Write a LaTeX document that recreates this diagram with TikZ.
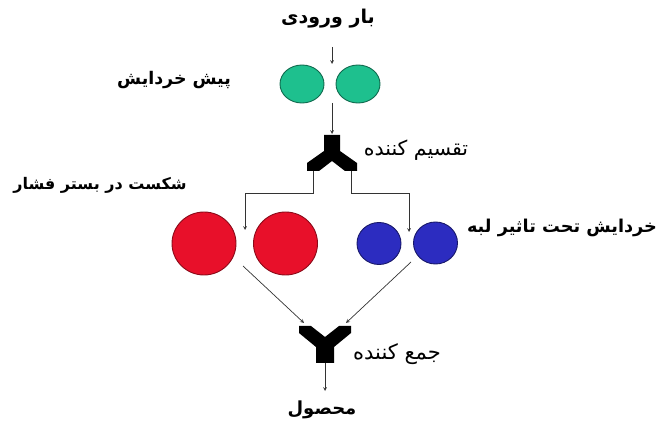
\documentclass[tikz,border=0pt]{standalone}
\usepackage{fontspec}
\usetikzlibrary{positioning,shapes.geometric,calc}
\newfontfamily\fafont[Script=Arabic]{DejaVu Sans}
\TeXXeTstate=1
\definecolor{millgreen}{RGB}{30,192,142}
\definecolor{millred}{RGB}{232,16,42}
\definecolor{millblue}{RGB}{44,44,192}

\begin{document}
\begin{tikzpicture}[
        x=1pt, y=-1pt,
        mill/.style={ellipse, line width=0.9pt, inner sep=0},
        greenmill/.style={mill, fill=millgreen, draw=millgreen!55!black, minimum width=44pt, minimum height=38pt},
        redmill/.style={mill, fill=millred, draw=millred!60!black, minimum width=64pt, minimum height=63pt},
        bluemill/.style={mill, fill=millblue, draw=millblue!55!black, minimum width=44pt, minimum height=42pt},
        boldtag/.style={font=\fafont\bfseries\fontsize{#1}{#1}\selectfont, inner sep=0},
        plaintag/.style={font=\fafont\fontsize{#1}{#1}\selectfont, inner sep=0},
        flow/.style={->, line width=0.7pt, draw=black!80},
        >=stealth
    ]
        \useasboundingbox (0,0) rectangle (661,427);

        % برچسب‌ها
        \node[boldtag=19] (feed) at (328,19) {\beginR بار ورودی\endR};
        \node[boldtag=17.4] (pretag) at (174,80) {\beginR پیش خردایش\endR};
        \node[plaintag=20.5] (splittag) at (416,150) {\beginR تقسیم کننده\endR};
        \node[boldtag=16] (bedtag) at (100,185) {\beginR شکست در بستر فشار\endR};
        \node[boldtag=17.7] (edgetag) at (562,228) {\beginR خردایش تحت تاثیر لبه\endR};
        \node[plaintag=21] (jointag) at (397,354) {\beginR جمع کننده\endR};
        \node[boldtag=18] (product) at (322,410) {\beginR محصول\endR};

        % آسیاها
        \node[greenmill] (green1) at (302,84) {};
        \node[greenmill] (green2) at (358,84) {};
        \node[redmill] (red1) at (204,243.5) {};
        \node[redmill] (red2) at (285.5,243.5) {};
        \node[bluemill] (blue1) at (379,243.5) {};
        \node[bluemill] (blue2) at (435.5,243) {};

        % تقسیم کننده و جمع کننده
        \coordinate (split) at (332,150);
        \coordinate (join) at (325,345);
        \fill[shift={(split)}] (-8,-15) -- (8,-15) -- (8,1) -- (25,13) -- (25,21) -- (13,21)
            -- (0,11) -- (-13,21) -- (-25,21) -- (-25,13) -- (-8,1) -- cycle;
        \fill[shift={(join)}] (-26,-19) -- (-14,-19) -- (0,-8) -- (14,-19) -- (26,-19) -- (26,-12)
            -- (9,2) -- (9,18) -- (-9,18) -- (-9,2) -- (-26,-12) -- cycle;

        % نقاط اتصال
        \coordinate (feedtop) at (332,47);
        \coordinate (feedend) at (332,64);
        \coordinate (greenout) at (332,103);
        \coordinate (splitin) at ($(split)+(0,-16)$);
        \coordinate (splitL) at ($(split)+(-19,21)$);
        \coordinate (splitR) at ($(split)+(19,21)$);
        \coordinate (redin) at (245,230);
        \coordinate (bluein) at (409,232);
        \coordinate (redout) at (243,266);
        \coordinate (blueout) at (411,262);
        \coordinate (joinL) at ($(join)+(-21,-22)$);
        \coordinate (joinR) at ($(join)+(21,-22)$);
        \coordinate (joinS) at ($(join)+(0,18)$);
        \coordinate (outend) at (325,391);

        % مسیر جریان
        \draw[flow] (feedtop) -- (feedend);
        \draw[flow] (greenout) -- (splitin);
        \draw[flow] (splitL) -- ++(0,22) -| (redin);
        \draw[flow] (splitR) -- ++(0,22) -| (bluein);
        \draw[flow] (redout) -- (joinL);
        \draw[flow] (blueout) -- (joinR);
        \draw[flow] (joinS) -- (outend);
    \end{tikzpicture}
\end{document}
